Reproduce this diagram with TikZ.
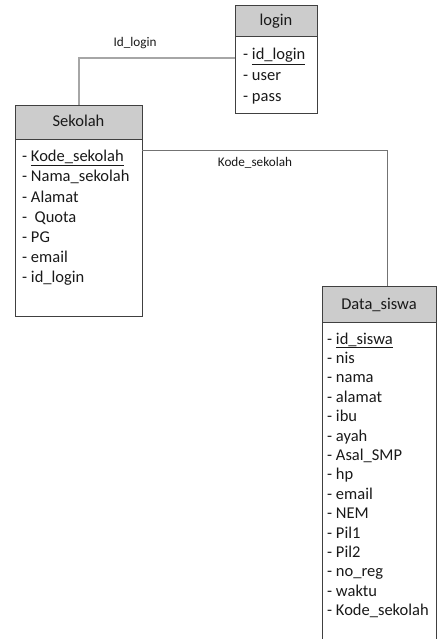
\documentclass[tikz,border=0pt]{standalone}
\usepackage{fontspec}
\setmainfont{Carlito}
\begin{document}
\begin{tikzpicture}[x=1pt,y=-1pt,
  boxline/.style={draw=black!75, line width=0.8pt},
  headfill/.style={boxline, fill=black!20},
  rowtext/.style={anchor=base west, inner sep=0pt, yshift=-5pt, font=\fontsize{16.5}{20}\selectfont, text=black!90},
  headtext/.style={anchor=base, inner sep=0pt, yshift=-5pt, font=\fontsize{16.5}{20}\selectfont, text=black!90},
  reltext/.style={anchor=base, inner sep=0pt, yshift=-4pt, font=\fontsize{13.2}{16}\selectfont, text=black!90},
  conn/.style={draw=black!55, line width=0.8pt}]
\useasboundingbox (0,0) rectangle (437,639);

% login
\node (login) [boxline, anchor=north west, minimum width=82pt, minimum height=108pt, inner sep=0pt] at (235,5) {};
\path[headfill] (235,5) rectangle (317,36);
\node (loginh) [headtext] at (276,20.5) {login};
\node (l1) [rowtext] at (243,55) {- \underline{id\_login}};
\node (l2) [rowtext] at (243,76) {- user};
\node (l3) [rowtext] at (243,97) {- pass};

% Sekolah
\node (sek) [boxline, anchor=north west, minimum width=127pt, minimum height=211pt, inner sep=0pt] at (15,105) {};
\path[headfill] (15,105) rectangle (142,139);
\node (sekh) [headtext] at (78.5,122) {Sekolah};
\node (s1) [rowtext] at (22,157) {- \underline{Kode\_sekolah}};
\node (s2) [rowtext] at (22,177) {- Nama\_sekolah};
\node (s3) [rowtext] at (22,197) {- Alamat};
\node (s4) [rowtext] at (22,217) {-\ \ Quota};
\node (s5) [rowtext] at (22,237.5) {- PG};
\node (s6) [rowtext] at (22,257.5) {- email};
\node (s7) [rowtext] at (22,277.5) {- id\_login};

% Data_siswa
\node (ds) [boxline, anchor=north west, minimum width=114pt, minimum height=370pt, inner sep=0pt] at (322,286) {};
\path[headfill] (322,286) rectangle (436,322);
\node (dsh) [headtext] at (379,304) {Data\_siswa};
\node (d1) [rowtext] at (327,339) {- \underline{id\_siswa}};
\node (d2) [rowtext] at (327,358.4) {- nis};
\node (d3) [rowtext] at (327,377.8) {- nama};
\node (d4) [rowtext] at (327,397.2) {- alamat};
\node (d5) [rowtext] at (327,416.6) {- ibu};
\node (d6) [rowtext] at (327,436) {- ayah};
\node (d7) [rowtext] at (327,455.4) {- Asal\_SMP};
\node (d8) [rowtext] at (327,474.8) {- hp};
\node (d9) [rowtext] at (327,494.2) {- email};
\node (d10) [rowtext] at (327,513.6) {- NEM};
\node (d11) [rowtext] at (327,533) {- Pil1};
\node (d12) [rowtext] at (327,552.4) {- Pil2};
\node (d13) [rowtext] at (327,571.8) {- no\_reg};
\node (d14) [rowtext] at (327,591.2) {- waktu};
\node (d15) [rowtext] at (327,610.6) {- Kode\_sekolah};

% connectors
\coordinate (c1) at (235,58);
\draw[conn, draw=black!35, line width=1.2pt] (c1) -| (sek.north);
\node (lab1) [reltext] at (135,43) {Id\_login};

\coordinate (c2) at (142,150);
\coordinate (c3) at (387,286);
\draw[conn] (c2) -| (c3);
\node (lab2) [reltext] at (255,163) {Kode\_sekolah};
\end{tikzpicture}
\end{document}
